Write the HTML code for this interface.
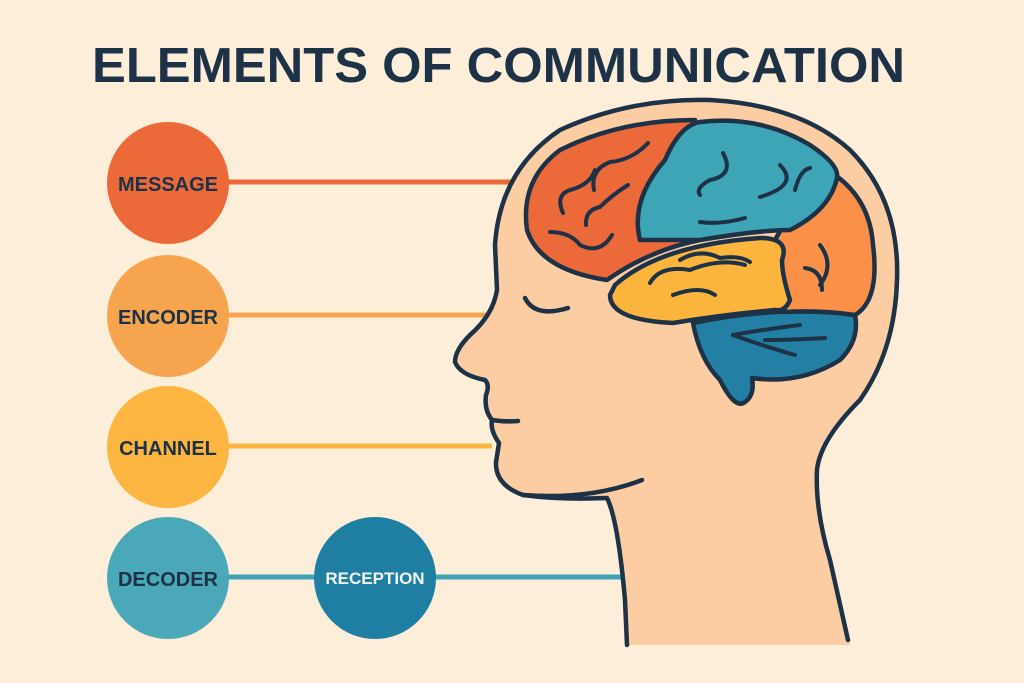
<!DOCTYPE html>
<html><head><style>
html,body{margin:0;padding:0;background:#fdeeda;}
svg{display:block}
text{font-family:"Liberation Sans",sans-serif;font-weight:bold;fill:#1d3247}
</style></head><body>
<svg width="1024" height="683" viewBox="0 0 1024 683">
<rect width="1024" height="683" fill="#fdeeda"/>
<text x="92" y="82" font-size="49" textLength="813" lengthAdjust="spacingAndGlyphs">ELEMENTS OF COMMUNICATION</text>
<line x1="220" y1="182" x2="525" y2="182" stroke="#ec6a3a" stroke-width="5"/>
<line x1="220" y1="315" x2="497" y2="315" stroke="#f6a54e" stroke-width="5"/>
<line x1="220" y1="446" x2="492" y2="446" stroke="#fbb540" stroke-width="5"/>
<line x1="220" y1="577" x2="625" y2="577" stroke="#3fa3b5" stroke-width="5"/>
<path d="M627,645 L625,600 Q618,520 607,498 Q560,500 523,495 Q495,485 496,462 Q498,450 499,443 Q490,430 492,420 Q484,410 486,395 Q490,385 485,380 Q460,375 455,362 Q455,350 470,335 Q493,315 497,290 L495,245 Q500,170 560,130 Q630,98 710,100 Q800,105 850,150 Q900,200 897,280 Q895,350 860,400 Q820,440 817,470 Q815,510 830,560 L850,645 Z" fill="#fccda3" stroke="none"/>
<path d="M627,645 L625,600 Q618,520 607,498 Q560,500 523,495 Q495,485 496,462 Q498,450 499,443 Q490,430 492,420 Q484,410 486,395 Q490,385 485,380 Q460,375 455,362 Q455,350 470,335 Q493,315 497,290 L495,245 Q500,170 560,130 Q630,98 710,100 Q800,105 850,150 Q900,200 897,280 Q895,350 860,400 Q820,440 817,470 Q815,510 830,560 L848,640" fill="none" stroke="#1d3247" stroke-width="4.5" stroke-linejoin="round" stroke-linecap="round"/>
<path d="M523,495 Q590,500 642,480" fill="none" stroke="#1d3247" stroke-width="4.5" stroke-linecap="round"/>
<path d="M492,420 Q505,422 518,421" fill="none" stroke="#1d3247" stroke-width="4.5" stroke-linecap="round"/>
<path d="M525,298 Q535,318 568,308" fill="none" stroke="#1d3247" stroke-width="4.5" stroke-linecap="round"/>
<g stroke="#1d3247" stroke-width="4.5" stroke-linejoin="round" stroke-linecap="round">
<path d="M693,323 Q700,360 720,380 Q735,410 745,402 Q755,395 752,378 Q800,385 840,360 Q860,340 855,315 Q780,305 693,323Z" fill="#247fa5"/>
<path d="M775,240 Q820,160 835,175 Q870,200 873,245 Q880,300 855,315 Q820,310 785,312 Z" fill="#fb9149"/>
<path d="M607,280 Q540,270 527,230 Q520,180 560,150 Q620,120 695,120 L700,240 Q650,250 607,280Z" fill="#ec6a3a"/>
<path d="M640,240 Q630,200 665,160 Q680,125 700,122 Q760,115 810,145 Q840,165 837,178 Q830,210 790,230 Q760,230 700,240 Z" fill="#3ea5b7"/>
<path d="M615,285 Q660,245 760,238 Q790,238 782,260 Q782,275 790,300 Q785,312 775,310 Q720,315 673,323 Q610,320 610,295 Z" fill="#fbb53d"/>
</g>
<g fill="none" stroke="#1d3247" stroke-width="4" stroke-linecap="round">
<path d="M550,232 Q570,232 580,245 Q600,255 612,235"/>
<path d="M563,213 Q555,195 570,190 Q590,185 595,170"/>
<path d="M594,190 Q590,170 610,162 Q632,160 648,143"/>
<path d="M586,225 Q585,210 600,207 Q612,195 628,185"/>
<path d="M680,260 Q700,248 720,258 Q740,255 750,262"/>
<path d="M650,283 Q660,265 690,270 Q720,258 745,265"/>
<path d="M673,295 Q700,285 715,295"/>
<path d="M723,153 Q735,175 710,180 Q695,188 700,195"/>
<path d="M760,197 Q800,185 780,165"/>
<path d="M795,190 Q800,170 810,168"/>
<path d="M745,218 Q720,225 700,222"/>
<path d="M820,245 Q835,265 820,285"/>
<path d="M805,268 Q822,270 822,290"/>
<path d="M733,335 Q760,330 800,325"/>
<path d="M733,335 Q760,345 795,355"/>
<path d="M765,340 Q790,340 825,338"/>
</g>
<circle cx="168" cy="183" r="61" fill="#ec6a3a"/>
<circle cx="168" cy="316" r="61" fill="#f6a54e"/>
<circle cx="168" cy="447" r="61" fill="#fbb540"/>
<circle cx="168" cy="578" r="61" fill="#4aa8b8"/>
<circle cx="375" cy="578" r="61" fill="#1f7fa3"/>
<text x="168" y="191" font-size="20" text-anchor="middle">MESSAGE</text>
<text x="168" y="324" font-size="20" text-anchor="middle">ENCODER</text>
<text x="168" y="455" font-size="20" text-anchor="middle">CHANNEL</text>
<text x="168" y="586" font-size="20" text-anchor="middle">DECODER</text>
<text x="375" y="584" font-size="17" text-anchor="middle" style="fill:#f4f4ee">RECEPTION</text>
</svg>
</body></html>
